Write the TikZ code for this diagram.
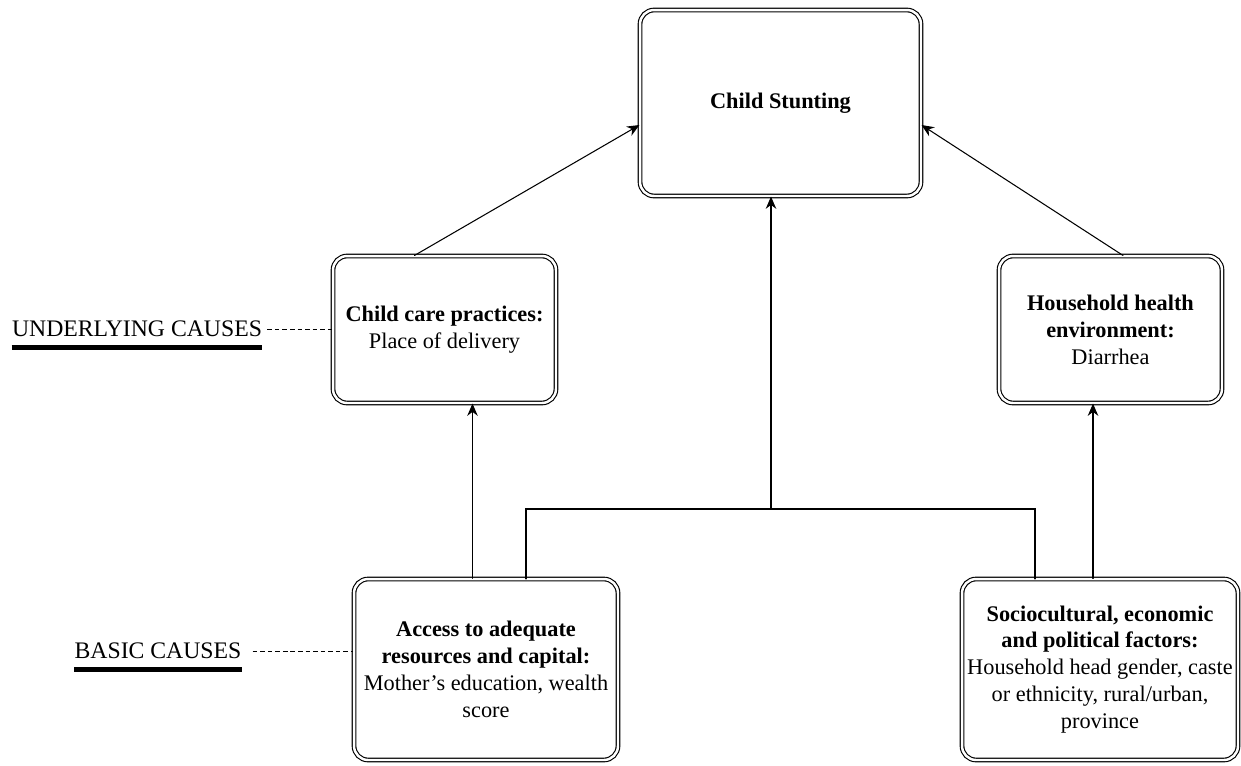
\documentclass[tikz,border=0pt]{standalone}
\usepackage{fontspec}
\setmainfont{Liberation Serif}
\usetikzlibrary{arrows.meta,positioning}

\begin{document}
\begin{tikzpicture}[x=0.02cm,y=-0.02cm,>={Stealth[length=7pt,width=6pt]},line cap=round,
  font=\fontsize{12.7}{15.3}\selectfont,
  factor/.style={draw,double,double distance=1.4pt,line width=0.65pt,rounded corners=8pt,align=center,inner sep=2pt},
  level/.style={inner sep=0pt,font=\fontsize{13.5}{16}\selectfont},
  link/.style={->,line width=0.6pt},
  bar/.style={line width=2.8pt,line cap=butt},
  guide/.style={line width=0.5pt,line cap=butt,dash pattern=on 2.6pt off 1.7pt}]
\useasboundingbox (0,0) rectangle (1241,765);
\node[factor,minimum width=5.62cm,minimum height=3.72cm] (stunt) at (780.5,103) {\textbf{Child Stunting}};
\node[factor,minimum width=4.46cm,minimum height=2.94cm] (care) at (444.5,329.5) {\textbf{Child care practices:}\\Place of delivery};
\node[factor,minimum width=4.46cm,minimum height=2.94cm] (env) at (1110.5,329.5) {\textbf{Household health}\\\textbf{environment:}\\Diarrhea};
\node[factor,minimum width=5.28cm,minimum height=3.62cm] (access) at (486,669.5) {\textbf{Access to adequate}\\\textbf{resources and capital:}\\Mother's education, wealth\\score};
\node[factor,minimum width=5.52cm,minimum height=3.62cm] (socio) at (1100,669.5) {\textbf{Sociocultural, economic}\\\textbf{and political factors:}\\Household head gender, caste\\or ethnicity, rural/urban,\\province};
\node[level] (under) at (137,329) {UNDERLYING CAUSES};
\node[level] (basic) at (158,651) {BASIC CAUSES};
\draw[bar] ([yshift=-0.2cm]under.south west) -- ([yshift=-0.2cm]under.south east);
\draw[bar] ([yshift=-0.2cm]basic.south west) -- ([yshift=-0.2cm]basic.south east);
\draw[guide] ([xshift=0.1cm]under.east) -- (under.east -| care.west);
\draw[guide] ([xshift=0.22cm]basic.east) -- (basic.east -| access.west);
\coordinate (jn) at (771,509);
\draw[line width=1.4pt] ([xshift=0.8cm]access.north) |- (jn) -| ([xshift=-1.3cm]socio.north);
\draw[link] (jn) -- (jn |- stunt.south);
\draw[link] ([xshift=-0.6cm]care.north) -- ([yshift=-0.44cm]stunt.west);
\draw[link] ([xshift=0.25cm]env.north) -- ([yshift=-0.44cm]stunt.east);
\draw[link] ([xshift=-0.27cm]access.north) -- ([xshift=-0.27cm]access.north |- care.south);
\draw[link] ([xshift=-0.35cm]env.south |- socio.north) -- ([xshift=-0.35cm]env.south);
\end{tikzpicture}
\end{document}
